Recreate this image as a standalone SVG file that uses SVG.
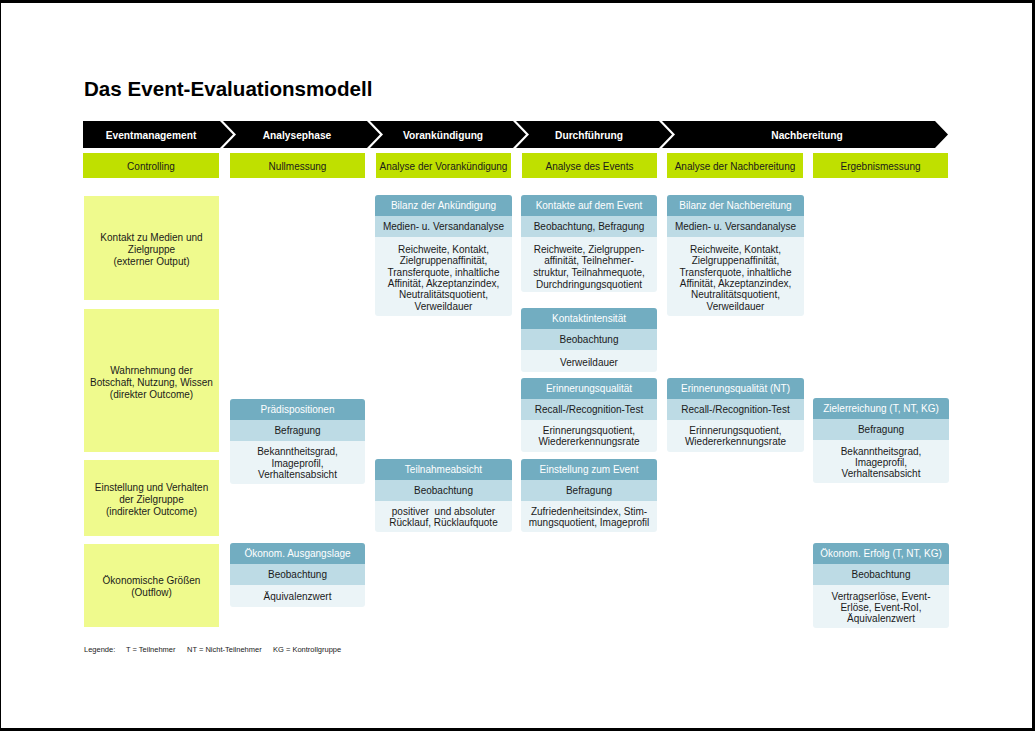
<svg xmlns="http://www.w3.org/2000/svg" width="1035" height="731" viewBox="0 0 1035 731">
<style>
.t{font-family:"Liberation Sans",Arial,sans-serif;font-size:10px;fill:#1a1a1a;text-anchor:middle}
.w{fill:#ffffff}
.bd{font-weight:bold;font-size:10.2px}
.chev{fill:#000000}
.grn{fill:#bfe000}
.yel{fill:#effa8d}
.hd{fill:#72adc1}
.r2{fill:#bddbe5}
.r3{fill:#ebf4f7}
.leg{font-family:"Liberation Sans",Arial,sans-serif;font-size:7.5px;fill:#1a1a1a}
</style>
<rect x="0" y="0" width="1035" height="731" fill="#000"/>
<rect x="1" y="3" width="1031" height="725" fill="#fff"/>
<text x="84" y="96" style="font-family:'Liberation Sans',Arial,sans-serif;font-size:20.6px;font-weight:bold;fill:#000">Das Event-Evaluationsmodell</text>

<g id="phase-eventmanagement"><path class="chev" d="M83,121H220L233,134.5L220,148H83Z"/><text class="t w bd" x="151" y="138.5">Eventmanagement</text></g>
<g id="phase-analysephase"><path class="chev" d="M223,121H367L380,134.5L367,148H223L236,134.5Z"/><text class="t w bd" x="297" y="138.5">Analysephase</text></g>
<g id="phase-vorankuendigung"><path class="chev" d="M370,121H513L526,134.5L513,148H370L383,134.5Z"/><text class="t w bd" x="443" y="138.5">Vorankündigung</text></g>
<g id="phase-durchfuehrung"><path class="chev" d="M516,121H659L672,134.5L659,148H516L529,134.5Z"/><text class="t w bd" x="589" y="138.5">Durchführung</text></g>
<g id="phase-nachbereitung"><path class="chev" d="M662,121H935L948,134.5L935,148H662L675,134.5Z"/><text class="t w bd" x="807" y="138.5">Nachbereitung</text></g>

<g id="col-controlling"><rect class="grn" x="83" y="153" width="136" height="25"/><text class="t" x="151" y="169.5">Controlling</text></g>
<g id="col-nullmessung"><rect class="grn" x="230" y="153" width="135" height="25"/><text class="t" x="297.5" y="169.5">Nullmessung</text></g>
<g id="col-analyse-vorankuendigung"><rect class="grn" x="376" y="153" width="135" height="25"/><text class="t" x="443.5" y="169.5">Analyse der Vorankündigung</text></g>
<g id="col-analyse-events"><rect class="grn" x="522" y="153" width="135" height="25"/><text class="t" x="589.5" y="169.5">Analyse des Events</text></g>
<g id="col-analyse-nachbereitung"><rect class="grn" x="667" y="153" width="136" height="25"/><text class="t" x="735" y="169.5">Analyse der Nachbereitung</text></g>
<g id="col-ergebnismessung"><rect class="grn" x="813" y="153" width="135" height="25"/><text class="t" x="880.5" y="169.5">Ergebnismessung</text></g>

<g id="row-kontakt"><rect class="yel" x="84" y="196" width="135" height="104"/>
<text class="t" x="151.5" y="240.5">Kontakt zu Medien und</text><text class="t" x="151.5" y="252.5">Zielgruppe</text><text class="t" x="151.5" y="264.5">(externer Output)</text></g>
<g id="row-wahrnehmung"><rect class="yel" x="84" y="309" width="135" height="143"/>
<text class="t" x="151.5" y="373.5">Wahrnehmung der</text><text class="t" x="151.5" y="385.5">Botschaft, Nutzung, Wissen</text><text class="t" x="151.5" y="397.5">(direkter Outcome)</text></g>
<g id="row-einstellung"><rect class="yel" x="84" y="460" width="135" height="76"/>
<text class="t" x="151.5" y="490.5">Einstellung und Verhalten</text><text class="t" x="151.5" y="502.5">der Zielgruppe</text><text class="t" x="151.5" y="514.5">(indirekter Outcome)</text></g>
<g id="row-oekonomisch"><rect class="yel" x="84" y="544" width="135" height="83"/>
<text class="t" x="151.5" y="583.5">Ökonomische Größen</text><text class="t" x="151.5" y="595.5">(Outflow)</text></g>

<g id="card-praedispositionen">
<rect class="r3" x="230" y="399" width="135" height="85" rx="3"/>
<path class="hd" d="M230,420V402Q230,399 233,399H362Q365,399 365,402V420Z"/>
<rect class="r2" x="230" y="420" width="135" height="21"/>
<text class="t w" x="297.5" y="413">Prädispositionen</text>
<text class="t" x="297.5" y="434">Befragung</text>
<text class="t" x="297.5" y="455.4">Bekanntheitsgrad,</text><text class="t" x="297.5" y="466.6">Imageprofil,</text><text class="t" x="297.5" y="477.8">Verhaltensabsicht</text>
</g>
<g id="card-ausgangslage">
<rect class="r3" x="230" y="543" width="135" height="64" rx="3"/>
<path class="hd" d="M230,564V546Q230,543 233,543H362Q365,543 365,546V564Z"/>
<rect class="r2" x="230" y="564" width="135" height="21"/>
<text class="t w" x="297.5" y="557">Ökonom. Ausgangslage</text>
<text class="t" x="297.5" y="578">Beobachtung</text>
<text class="t" x="297.5" y="600">Äquivalenzwert</text>
</g>

<g id="card-bilanz-ankuendigung">
<rect class="r3" x="375" y="195" width="137" height="121" rx="3"/>
<path class="hd" d="M375,216V198Q375,195 378,195H509Q512,195 512,198V216Z"/>
<rect class="r2" x="375" y="216" width="137" height="21"/>
<text class="t w" x="443.5" y="209">Bilanz der Ankündigung</text>
<text class="t" x="443.5" y="230">Medien- u. Versandanalyse</text>
<text class="t" x="443.5" y="252.8">Reichweite, Kontakt,</text><text class="t" x="443.5" y="264.2">Zielgruppenaffinität,</text><text class="t" x="443.5" y="275.5">Transferquote, inhaltliche</text><text class="t" x="443.5" y="286.8">Affinität, Akzeptanzindex,</text><text class="t" x="443.5" y="298.2">Neutralitätsquotient,</text><text class="t" x="443.5" y="309.5">Verweildauer</text>
</g>
<g id="card-teilnahmeabsicht">
<rect class="r3" x="375" y="459" width="137" height="73" rx="3"/>
<path class="hd" d="M375,480V462Q375,459 378,459H509Q512,459 512,462V480Z"/>
<rect class="r2" x="375" y="480" width="137" height="21"/>
<text class="t w" x="443.5" y="473">Teilnahmeabsicht</text>
<text class="t" x="443.5" y="494">Beobachtung</text>
<text class="t" x="443.5" y="514.8">positiver&#160; und absoluter</text><text class="t" x="443.5" y="526">Rücklauf, Rücklaufquote</text>
</g>

<g id="card-kontakte-event">
<rect class="r3" x="521" y="195" width="136" height="97" rx="3"/>
<path class="hd" d="M521,216V198Q521,195 524,195H654Q657,195 657,198V216Z"/>
<rect class="r2" x="521" y="216" width="136" height="21"/>
<text class="t w" x="589" y="209">Kontakte auf dem Event</text>
<text class="t" x="589" y="230">Beobachtung, Befragung</text>
<text class="t" x="589" y="252.8">Reichweite, Zielgruppen-</text><text class="t" x="589" y="264.4">affinität, Teilnehmer-</text><text class="t" x="589" y="276">struktur, Teilnahmequote,</text><text class="t" x="589" y="287.6">Durchdringungsquotient</text>
</g>
<g id="card-kontaktintensitaet">
<rect class="r3" x="521" y="308" width="136" height="64" rx="3"/>
<path class="hd" d="M521,329V311Q521,308 524,308H654Q657,308 657,311V329Z"/>
<rect class="r2" x="521" y="329" width="136" height="21"/>
<text class="t w" x="589" y="322">Kontaktintensität</text>
<text class="t" x="589" y="343">Beobachtung</text>
<text class="t" x="589" y="365.5">Verweildauer</text>
</g>
<g id="card-erinnerungsqualitaet">
<rect class="r3" x="521" y="378" width="136" height="74" rx="3"/>
<path class="hd" d="M521,399V381Q521,378 524,378H654Q657,378 657,381V399Z"/>
<rect class="r2" x="521" y="399" width="136" height="21"/>
<text class="t w" x="589" y="392">Erinnerungsqualität</text>
<text class="t" x="589" y="413">Recall-/Recognition-Test</text>
<text class="t" x="589" y="433.5">Erinnerungsquotient,</text><text class="t" x="589" y="445">Wiedererkennungsrate</text>
</g>
<g id="card-einstellung-event">
<rect class="r3" x="521" y="459" width="136" height="73" rx="3"/>
<path class="hd" d="M521,480V462Q521,459 524,459H654Q657,459 657,462V480Z"/>
<rect class="r2" x="521" y="480" width="136" height="21"/>
<text class="t w" x="589" y="473">Einstellung zum Event</text>
<text class="t" x="589" y="494">Befragung</text>
<text class="t" x="589" y="514.8">Zufriedenheitsindex, Stim-</text><text class="t" x="589" y="526">mungsquotient, Imageprofil</text>
</g>

<g id="card-bilanz-nachbereitung">
<rect class="r3" x="667" y="195" width="137" height="121" rx="3"/>
<path class="hd" d="M667,216V198Q667,195 670,195H801Q804,195 804,198V216Z"/>
<rect class="r2" x="667" y="216" width="137" height="21"/>
<text class="t w" x="735.5" y="209">Bilanz der Nachbereitung</text>
<text class="t" x="735.5" y="230">Medien- u. Versandanalyse</text>
<text class="t" x="735.5" y="252.8">Reichweite, Kontakt,</text><text class="t" x="735.5" y="264.2">Zielgruppenaffinität,</text><text class="t" x="735.5" y="275.5">Transferquote, inhaltliche</text><text class="t" x="735.5" y="286.8">Affinität, Akzeptanzindex,</text><text class="t" x="735.5" y="298.2">Neutralitätsquotient,</text><text class="t" x="735.5" y="309.5">Verweildauer</text>
</g>
<g id="card-erinnerungsqualitaet-nt">
<rect class="r3" x="667" y="378" width="137" height="74" rx="3"/>
<path class="hd" d="M667,399V381Q667,378 670,378H801Q804,378 804,381V399Z"/>
<rect class="r2" x="667" y="399" width="137" height="21"/>
<text class="t w" x="735.5" y="392">Erinnerungsqualität (NT)</text>
<text class="t" x="735.5" y="413">Recall-/Recognition-Test</text>
<text class="t" x="735.5" y="433.5">Erinnerungsquotient,</text><text class="t" x="735.5" y="445">Wiedererkennungsrate</text>
</g>

<g id="card-zielerreichung">
<rect class="r3" x="813" y="398" width="136" height="85" rx="3"/>
<path class="hd" d="M813,419V401Q813,398 816,398H946Q949,398 949,401V419Z"/>
<rect class="r2" x="813" y="419" width="136" height="21"/>
<text class="t w" x="881" y="412">Zielerreichung (T, NT, KG)</text>
<text class="t" x="881" y="433">Befragung</text>
<text class="t" x="881" y="455">Bekanntheitsgrad,</text><text class="t" x="881" y="466">Imageprofil,</text><text class="t" x="881" y="477">Verhaltensabsicht</text>
</g>
<g id="card-oekonom-erfolg">
<rect class="r3" x="813" y="543" width="136" height="85" rx="3"/>
<path class="hd" d="M813,564V546Q813,543 816,543H946Q949,543 949,546V564Z"/>
<rect class="r2" x="813" y="564" width="136" height="21"/>
<text class="t w" x="881" y="557">Ökonom. Erfolg (T, NT, KG)</text>
<text class="t" x="881" y="578">Beobachtung</text>
<text class="t" x="881" y="599.8">Vertragserlöse, Event-</text><text class="t" x="881" y="611">Erlöse, Event-RoI,</text><text class="t" x="881" y="622.2">Äquivalenzwert</text>
</g>

<g id="connectors"/>

<g id="legend">
<text class="leg" x="84" y="651.5">Legende:</text>
<text class="leg" x="126" y="651.5">T = Teilnehmer</text>
<text class="leg" x="187" y="651.5">NT = Nicht-Teilnehmer</text>
<text class="leg" x="273" y="651.5">KG = Kontrollgruppe</text>
</g>
</svg>
